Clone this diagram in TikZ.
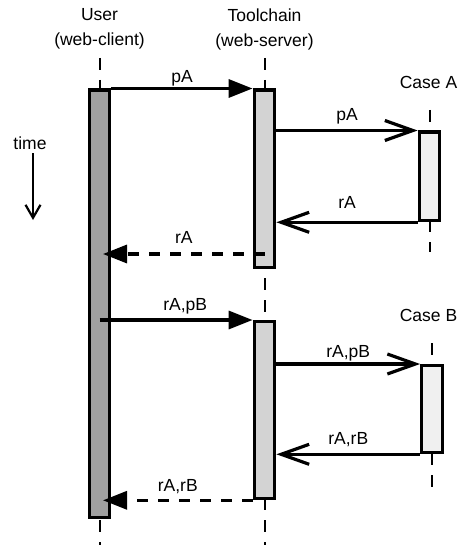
\documentclass[tikz,border=0pt]{standalone}
\usepackage{fontspec}
\setmainfont{Liberation Sans}
\usetikzlibrary{arrows.meta,backgrounds}
\definecolor{seqDark}{HTML}{A0A0A0}
\definecolor{seqMid}{HTML}{D3D3D3}
\definecolor{seqPale}{HTML}{F0F0F0}
\tikzset{
  seq bar/.style={draw=black, line width=3.3pt, minimum width=20.5pt, inner sep=0pt, anchor=north},
  seq life/.style={draw=black, line width=2pt, dash pattern=on 12pt off 10pt},
  seq call/.style={draw=black, line width=3.2pt, -{Triangle[length=24pt,width=18pt]}},
  seq send/.style={draw=black, line width=3.2pt, -{Straight Barb[length=28pt,width=20pt]}},
  seq return/.style={seq call, dash pattern=on 11pt off 10pt},
  seq time/.style={draw=black, line width=2.2pt, -{Straight Barb[length=13pt,width=15pt]}},
  seq label/.style={font=\fontsize{17.5}{25}\selectfont, align=center},
  seq msg/.style={font=\fontsize{17.5}{21}\selectfont, text depth=0pt, inner sep=0pt},
}

\begin{document}
\begin{tikzpicture}[x=1pt,y=-1pt]
  \useasboundingbox (0,0) rectangle (460,545);

  % participants
  \node[seq label] (user label) at (99.5,29) {User\\(web-client)};
  \node[seq label] (tool label) at (264.5,29) {Toolchain\\(web-server)};
  \node[seq label] (caseA label) at (428.5,82.5) {Case A};
  \node[seq label] (caseB label) at (428.5,315) {Case B};

  % activation bars
  \node[seq bar, fill=seqDark, minimum height=427pt] (user) at (99.5,88.5) {};
  \node[seq bar, fill=seqMid, minimum height=177pt] (tc1) at (264.5,88.5) {};
  \node[seq bar, fill=seqMid, minimum height=177pt] (tc2) at (264.5,320) {};
  \node[seq bar, fill=seqPale, minimum height=88.5pt] (caseA) at (429.5,130.5) {};
  \node[seq bar, fill=seqPale, minimum height=87pt] (caseB) at (432,364) {};

  % lifelines
  \begin{scope}[on background layer]
    \foreach \who/\top/\bot in {user/58/545, tc1/58/545, caseA/110/252, caseB/343/487}
      \draw[seq life] (\who |- 0,\top) -- (\who |- 0,\bot);
  \end{scope}

  % time
  \node[seq label] (time) at (30,143.5) {time};
  \coordinate (time end) at (33,220);
  \draw[seq time] (time.south -| time end) -- (time end);

  % first request
  \coordinate (user tip) at (103,0);
  \coordinate (rA back) at (103,254);
  \draw[seq call] (user.north east) -- node[seq msg, above=4pt] {pA} (tc1.north west);
  \draw[seq send] (caseA.north west -| tc1.east) -- node[seq msg, above=8pt] {pA} (caseA.north west);
  \draw[seq send] (caseA.south west) -- node[seq msg, above=12pt] {rA} (caseA.south west -| tc1.east);
  \draw[seq return] (tc1 |- rA back) -- node[seq msg, above=9pt] {rA} (rA back);

  % second request
  \draw[seq call] (tc2.north west -| user) -- node[seq msg, above=8pt, pos=0.56] {rA,pB} (tc2.north west);
  \draw[seq send] (caseB.north west -| tc2.east) -- node[seq msg, above=5pt] {rA,pB} (caseB.north west);
  \draw[seq send] (caseB.south west) -- node[seq msg, above=8pt] {rA,rB} (caseB.south west -| tc2.east);
  \draw[seq return] (tc2.south west) -- node[seq msg, above=7pt] {rA,rB} (tc2.south west -| user tip);
\end{tikzpicture}
\end{document}
